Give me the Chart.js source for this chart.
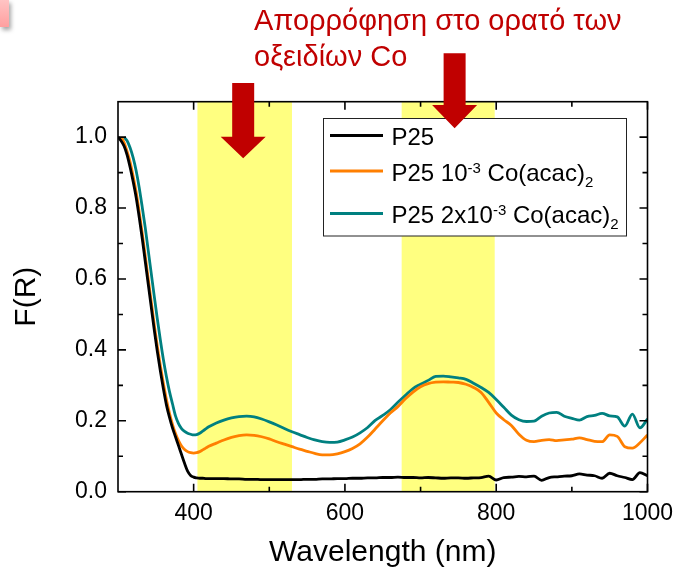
<!DOCTYPE html>
<html>
<head>
<meta charset="utf-8">
<script src="https://cdn.jsdelivr.net/npm/chart.js@4.4.1/dist/chart.umd.min.js"></script>
<style>
  html, body { margin: 0; padding: 0; background: #ffffff; }
  #wrap { position: relative; width: 683px; height: 576px; overflow: hidden; font-family: 'Liberation Sans', Arial, sans-serif; }
  #chart { position: absolute; left: 0; top: 0; }
  #heading { position: absolute; left: 254px; top: 3px; color: #c00000; font-size: 29px; line-height: 35.7px; white-space: nowrap; }
  #corner { position: absolute; left: 0; top: 0; width: 9px; height: 27px; background: linear-gradient(#ffc4c4, #ff9f9f); box-shadow: 2px 3px 4px rgba(0,0,0,0.35); }
</style>
</head>
<body>
<div id="wrap">
  <canvas id="chart" width="683" height="576"></canvas>
  <div id="corner"></div>
  <div id="heading">Απορρόφηση στο ορατό των<br>οξειδίων Co</div>
</div>
<script>
// ---------------- data ----------------
const wavelength = [300,304,308,312,316,320,324,328,332,336,340,344,348,352,356,360,364,368,372,376,380,384,388,392,396,400,404,408,412,416,420,
  430,440,450,460,470,480,490,500,510,520,530,540,550,560,570,580,590,600,610,620,630,640,650,660,670,680,690,700,
  710,720,730,740,750,760,770,780,790,800,810,820,830,840,850,860,870,880,890,900,910,920,930,940,950,960,970,980,990,1000];

const p25 = [1.000,0.990,0.975,0.950,0.915,0.875,0.830,0.775,0.715,0.650,0.585,0.520,0.455,0.395,0.340,0.290,0.245,0.210,0.180,0.155,0.130,0.105,0.080,0.058,0.046,0.041,0.039,0.038,0.038,0.037,0.037,
  0.037,0.037,0.036,0.036,0.035,0.035,0.034,0.034,0.034,0.034,0.034,0.034,0.035,0.035,0.036,0.036,0.037,0.037,0.038,0.038,0.039,0.039,0.040,0.040,0.041,0.040,0.040,0.039,
  0.040,0.039,0.038,0.039,0.039,0.038,0.039,0.040,0.044,0.033,0.040,0.041,0.043,0.042,0.044,0.032,0.040,0.042,0.044,0.045,0.050,0.047,0.045,0.038,0.052,0.045,0.040,0.034,0.054,0.045];

const co1 = [null,1.000,0.985,0.960,0.930,0.890,0.845,0.790,0.730,0.665,0.600,0.535,0.470,0.410,0.355,0.305,0.260,0.222,0.190,0.164,0.144,0.129,0.119,0.113,0.110,0.109,0.110,0.113,0.118,0.123,0.128,
  0.137,0.146,0.153,0.158,0.160,0.159,0.155,0.149,0.141,0.134,0.127,0.120,0.114,0.108,0.104,0.104,0.107,0.113,0.122,0.135,0.154,0.177,0.200,0.222,0.240,0.262,0.281,0.296,
  0.305,0.309,0.310,0.309,0.308,0.303,0.294,0.280,0.252,0.222,0.203,0.187,0.162,0.145,0.141,0.145,0.147,0.144,0.146,0.148,0.152,0.147,0.142,0.141,0.160,0.156,0.127,0.123,0.138,0.160];

const co2 = [null,null,1.000,0.990,0.970,0.942,0.905,0.858,0.803,0.745,0.680,0.615,0.550,0.487,0.428,0.373,0.325,0.283,0.248,0.214,0.192,0.178,0.170,0.165,0.162,0.160,0.161,0.165,0.171,0.177,0.183,
  0.194,0.202,0.208,0.212,0.213,0.211,0.205,0.197,0.188,0.178,0.169,0.161,0.153,0.146,0.141,0.139,0.140,0.146,0.154,0.166,0.181,0.201,0.215,0.231,0.252,0.272,0.291,0.303,
  0.314,0.325,0.326,0.324,0.321,0.317,0.306,0.294,0.280,0.260,0.238,0.216,0.203,0.198,0.199,0.213,0.222,0.224,0.213,0.207,0.202,0.212,0.215,0.221,0.214,0.211,0.185,0.219,0.180,0.205];

const seriesColors = ['#000000', '#ff7f00', '#008080'];
const legendParts = [
  [['P25', 'n']],
  [['P25 10', 'n'], ['-3', 'sup'], [' Co(acac)', 'n'], ['2', 'sub']],
  [['P25 2x10', 'n'], ['-3', 'sup'], [' Co(acac)', 'n'], ['2', 'sub']]
];
const xTicks = [400, 600, 800, 1000];
const xMinor = [500, 700, 900];
const yTicks = [0, 0.2, 0.4, 0.6, 0.8, 1.0];
const yMinor = [0.1, 0.3, 0.5, 0.7, 0.9];
const bandStart = [405, 675];
const bandEnd = [530, 798];
const arrowAt = [465.5, 745];

// ---------------- chart ----------------
const FONT = "'Liberation Sans', Arial, sans-serif";
const seriesValues = [p25, co1, co2];
const labelText = legendParts.map(p => p.map(q => q[0]).join(''));

const datasets = seriesValues.map((vals, i) => ({
  label: labelText[i],
  data: wavelength.map((w, j) => ({ x: w, y: vals[j] })),
  borderColor: seriesColors[i],
  backgroundColor: seriesColors[i],
  borderWidth: 2.8,
  pointRadius: 0,
  fill: false,
  cubicInterpolationMode: 'monotone',
  spanGaps: false
}));

const bandsPlugin = {
  id: 'bands',
  beforeDatasetsDraw(chart) {
    const { ctx, chartArea: a, scales: { x } } = chart;
    ctx.save();
    ctx.fillStyle = '#ffff80';
    bandStart.forEach((s, i) => {
      const x0 = x.getPixelForValue(s), x1 = x.getPixelForValue(bandEnd[i]);
      ctx.fillRect(x0, a.top, x1 - x0, a.bottom - a.top);
    });
    ctx.restore();
  }
};

const framePlugin = {
  id: 'frame',
  afterDatasetsDraw(chart) {
    const { ctx, chartArea: a, scales: { x, y } } = chart;
    ctx.save();
    ctx.strokeStyle = '#000';
    ctx.lineWidth = 1.6;
    ctx.strokeRect(a.left, a.top, a.right - a.left, a.bottom - a.top);
    ctx.beginPath();
    const xt = (v, len) => {
      const p = x.getPixelForValue(v);
      ctx.moveTo(p, a.bottom); ctx.lineTo(p, a.bottom - len);
      ctx.moveTo(p, a.top); ctx.lineTo(p, a.top + len);
    };
    const yt = (v, len) => {
      const p = y.getPixelForValue(v);
      ctx.moveTo(a.left, p); ctx.lineTo(a.left + len, p);
      ctx.moveTo(a.right, p); ctx.lineTo(a.right - len, p);
    };
    xTicks.forEach(v => xt(v, 8)); xMinor.forEach(v => xt(v, 5));
    yTicks.forEach(v => yt(v, 8)); yMinor.forEach(v => yt(v, 5));
    ctx.stroke();
    ctx.restore();
  }
};

const overlayPlugin = {
  id: 'overlay',
  afterDraw(chart) {
    const { ctx, scales: { x } } = chart;
    ctx.save();
    // legend box
    const L = 323.5, T = 118.5, R = 626.5, B = 236;
    ctx.fillStyle = '#fff';
    ctx.fillRect(L, T, R - L, B - T);
    ctx.strokeStyle = '#222';
    ctx.lineWidth = 1;
    ctx.strokeRect(L, T, R - L, B - T);
    const baselines = [145.3, 180.7, 223.3];
    legendParts.forEach((parts, i) => {
      const bl = baselines[i];
      ctx.strokeStyle = seriesColors[i];
      ctx.lineWidth = 3;
      ctx.beginPath();
      ctx.moveTo(330, bl - 9.8); ctx.lineTo(383, bl - 9.8);
      ctx.stroke();
      let cx = 391.5;
      ctx.fillStyle = '#000';
      ctx.textBaseline = 'alphabetic';
      ctx.textAlign = 'left';
      parts.forEach(([t, mode]) => {
        let size = 24, dy = 0;
        if (mode === 'sup') { size = 15; dy = -8; }
        if (mode === 'sub') { size = 15; dy = 6; }
        ctx.font = size + 'px ' + FONT;
        ctx.fillText(t, cx, bl + dy);
        cx += ctx.measureText(t).width;
      });
    });
    // arrows
    ctx.fillStyle = '#c00000';
    const geo = [[83, 136.7, 158.3], [53.3, 105, 128.3]];
    arrowAt.forEach((w, i) => {
      const cx = x.getPixelForValue(w);
      const [top, base, tip] = geo[i];
      ctx.beginPath();
      ctx.moveTo(cx - 11, top); ctx.lineTo(cx + 11, top); ctx.lineTo(cx + 11, base);
      ctx.lineTo(cx + 22.5, base); ctx.lineTo(cx, tip); ctx.lineTo(cx - 22.5, base);
      ctx.lineTo(cx - 11, base); ctx.closePath();
      ctx.fill();
    });
    ctx.restore();
  }
};

new Chart(document.getElementById('chart'), {
  type: 'line',
  data: { datasets },
  options: {
    responsive: false,
    devicePixelRatio: 1,
    animation: false,
    layout: { padding: { left: 0, top: 101.7, right: 35.5, bottom: 0 } },
    plugins: { legend: { display: false }, tooltip: { enabled: false } },
    scales: {
      x: {
        type: 'linear', min: 300, max: 1000,
        grid: { display: false, drawTicks: false },
        border: { display: false },
        afterBuildTicks: s => { s.ticks = xTicks.map(v => ({ value: v })); },
        afterFit: s => { s.height = 84.3; },
        ticks: { color: '#000', font: { family: FONT, size: 23 }, padding: 8, maxRotation: 0, callback: v => String(v) },
        title: { display: true, text: 'Wavelength (nm)', color: '#000', font: { family: FONT, size: 30 }, padding: { top: 0, bottom: 5 } }
      },
      y: {
        type: 'linear', min: 0, max: 1.1,
        grid: { display: false, drawTicks: false },
        border: { display: false },
        afterBuildTicks: s => { s.ticks = yTicks.map(v => ({ value: v })); },
        afterFit: s => { s.width = 118; },
        ticks: { color: '#000', font: { family: FONT, size: 23 }, padding: 11, callback: v => Number(v).toFixed(1) },
        title: { display: true, text: 'F(R)', color: '#000', font: { family: FONT, size: 30 }, padding: { top: 9, bottom: 0 } }
      }
    }
  },
  plugins: [bandsPlugin, framePlugin, overlayPlugin]
});
</script>
</body>
</html>
